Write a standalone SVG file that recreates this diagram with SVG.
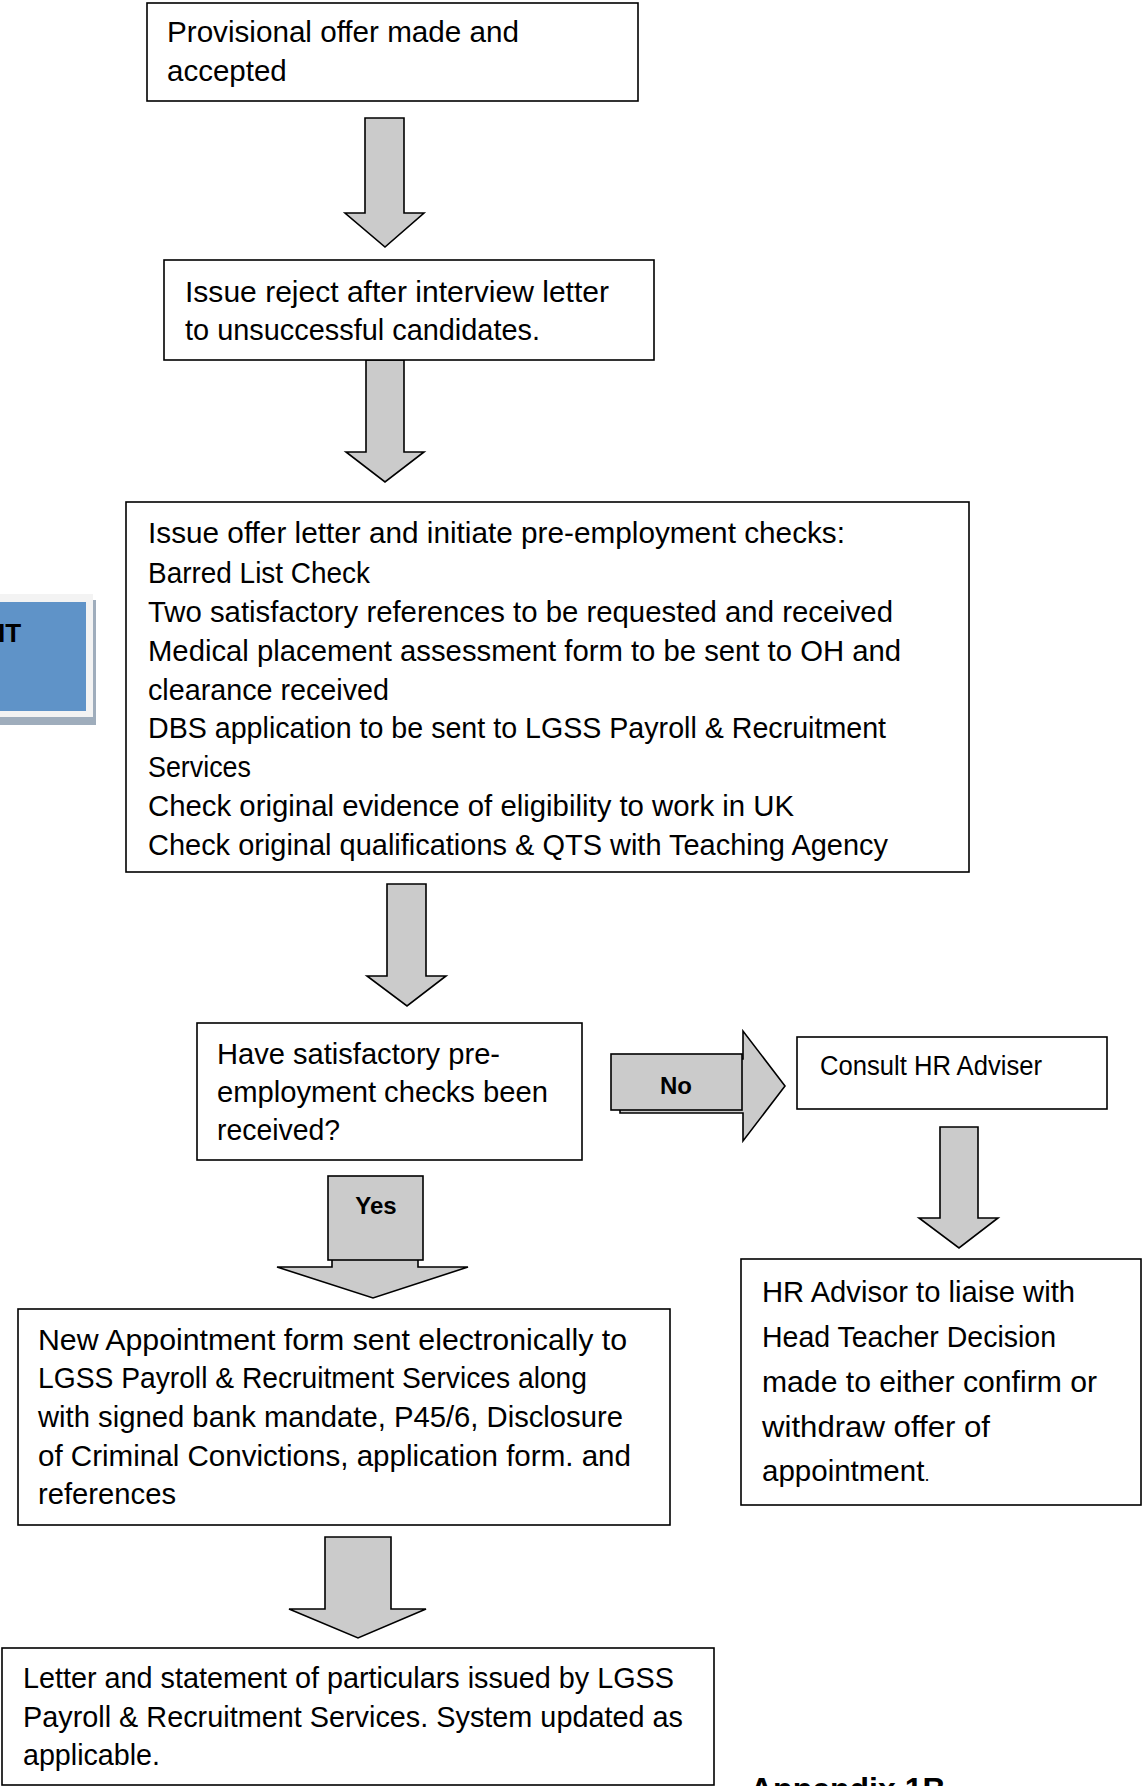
<svg xmlns="http://www.w3.org/2000/svg" width="1143" height="1786" viewBox="0 0 1143 1786">
<style>
.box{fill:#fff;stroke:#000;stroke-width:1.6}
.arr{fill:#cbcbcb;stroke:#000;stroke-width:1.6;stroke-linejoin:miter}
.t{font-family:"Liberation Sans",Arial,sans-serif;font-size:29.5px;fill:#000}
.s{font-size:27px}
.b{font-family:"Liberation Sans",Arial,sans-serif;font-weight:bold;fill:#000}
</style>
<rect width="1143" height="1786" fill="#fff"/>

<g id="side-tab">
<rect x="-10" y="600" width="106" height="125" fill="#9fadbc"/>
<rect x="-10" y="594" width="103" height="123" fill="#f3f3f3"/>
<rect x="-10" y="602" width="96" height="109" fill="#5f93c8"/>
<text class="b" x="-2" y="642" font-size="26">IT</text>
</g>

<g id="connectors">
<polygon class="arr" points="365,118 404,118 404,213 424,213 385,247 345,213 365,213"/>
<polygon class="arr" points="366,360 404,360 404,452 424,452 385,482 346,452 366,452"/>
<polygon class="arr" points="387,884 426,884 426,976 446,976 407,1006 367,976 387,976"/>
<g id="no-arrow">
<polygon class="arr" points="620,1059 743,1059 743,1031 785,1086 743,1141 743,1113 620,1113"/>
<rect class="arr" x="611" y="1054" width="131" height="56"/>
<text class="b" x="676" y="1094" font-size="24" text-anchor="middle">No</text>
</g>
<polygon class="arr" points="940,1127 978,1127 978,1218 998,1218 959,1248 919,1218 940,1218"/>
<g id="yes-arrow">
<polygon class="arr" points="332,1180 418,1180 418,1267 468,1267 373,1298 277,1267 332,1267"/>
<rect class="arr" x="328" y="1176" width="95" height="84"/>
<text class="b" x="376" y="1214" font-size="24" text-anchor="middle">Yes</text>
</g>
<polygon class="arr" points="325,1537 391,1537 391,1609 426,1609 358,1638 289,1609 325,1609"/>
</g>

<g id="node-provisional">
<rect class="box" x="147" y="3" width="491" height="98"/>
<text class="t" x="167" y="42" textLength="352" lengthAdjust="spacingAndGlyphs">Provisional offer made and</text>
<text class="t" x="167" y="81">accepted</text>
</g>

<g id="node-reject">
<rect class="box" x="164" y="260" width="490" height="100"/>
<text class="t" x="185" y="302" textLength="424" lengthAdjust="spacingAndGlyphs">Issue reject after interview letter</text>
<text class="t" x="185" y="340" textLength="355" lengthAdjust="spacingAndGlyphs">to unsuccessful candidates.</text>
</g>

<g id="node-offer">
<rect class="box" x="126" y="502" width="843" height="370"/>
<text class="t" x="148" y="543" textLength="697" lengthAdjust="spacingAndGlyphs">Issue offer letter and initiate pre-employment checks:</text>
<text class="t" x="148" y="583" textLength="222" lengthAdjust="spacingAndGlyphs">Barred List Check</text>
<text class="t" x="148" y="622" textLength="745" lengthAdjust="spacingAndGlyphs">Two satisfactory references to be requested and received</text>
<text class="t" x="148" y="661" textLength="753" lengthAdjust="spacingAndGlyphs">Medical placement assessment form to be sent to OH and</text>
<text class="t" x="148" y="700" textLength="241" lengthAdjust="spacingAndGlyphs">clearance received</text>
<text class="t" x="148" y="738" textLength="738" lengthAdjust="spacingAndGlyphs">DBS application to be sent to LGSS Payroll &amp; Recruitment</text>
<text class="t" x="148" y="777" textLength="103" lengthAdjust="spacingAndGlyphs">Services</text>
<text class="t" x="148" y="816" textLength="646" lengthAdjust="spacingAndGlyphs">Check original evidence of eligibility to work in UK</text>
<text class="t" x="148" y="855" textLength="740" lengthAdjust="spacingAndGlyphs">Check original qualifications &amp; QTS with Teaching Agency</text>
</g>

<g id="node-question">
<rect class="box" x="197" y="1023" width="385" height="137"/>
<text class="t" x="217" y="1064" textLength="283" lengthAdjust="spacingAndGlyphs">Have satisfactory pre-</text>
<text class="t" x="217" y="1102" textLength="331" lengthAdjust="spacingAndGlyphs">employment checks been</text>
<text class="t" x="217" y="1140" textLength="123" lengthAdjust="spacingAndGlyphs">received?</text>
</g>

<g id="node-consult">
<rect class="box" x="797" y="1037" width="310" height="72"/>
<text class="t s" x="820" y="1075" textLength="222" lengthAdjust="spacingAndGlyphs">Consult HR Adviser</text>
</g>

<g id="node-hr">
<rect class="box" x="741" y="1259" width="400" height="246"/>
<text class="t" x="762" y="1302" textLength="313" lengthAdjust="spacingAndGlyphs">HR Advisor to liaise with</text>
<text class="t" x="762" y="1347" textLength="294" lengthAdjust="spacingAndGlyphs">Head Teacher Decision</text>
<text class="t" x="762" y="1392" textLength="335" lengthAdjust="spacingAndGlyphs">made to either confirm or</text>
<text class="t" x="762" y="1437" textLength="228" lengthAdjust="spacingAndGlyphs">withdraw offer of</text>
<text class="t" x="762" y="1481">appointment<tspan font-size="18">.</tspan></text>
</g>

<g id="node-appointment">
<rect class="box" x="18" y="1309" width="652" height="216"/>
<text class="t" x="38" y="1350" textLength="589" lengthAdjust="spacingAndGlyphs">New Appointment form sent electronically to</text>
<text class="t" x="38" y="1388" textLength="549" lengthAdjust="spacingAndGlyphs">LGSS Payroll &amp; Recruitment Services along</text>
<text class="t" x="38" y="1427" textLength="585" lengthAdjust="spacingAndGlyphs">with signed bank mandate, P45/6, Disclosure</text>
<text class="t" x="38" y="1466" textLength="593" lengthAdjust="spacingAndGlyphs">of Criminal Convictions, application form. and</text>
<text class="t" x="38" y="1504" textLength="138" lengthAdjust="spacingAndGlyphs">references</text>
</g>

<g id="node-letter">
<rect class="box" x="2" y="1648" width="712" height="137"/>
<text class="t" x="23" y="1688" textLength="651" lengthAdjust="spacingAndGlyphs">Letter and statement of particulars issued by LGSS</text>
<text class="t" x="23" y="1727" textLength="660" lengthAdjust="spacingAndGlyphs">Payroll &amp; Recruitment Services. System updated as</text>
<text class="t" x="23" y="1765" textLength="137" lengthAdjust="spacingAndGlyphs">applicable.</text>
</g>

<text class="b" x="750" y="1800" font-size="32">Appendix 1B</text>
</svg>
